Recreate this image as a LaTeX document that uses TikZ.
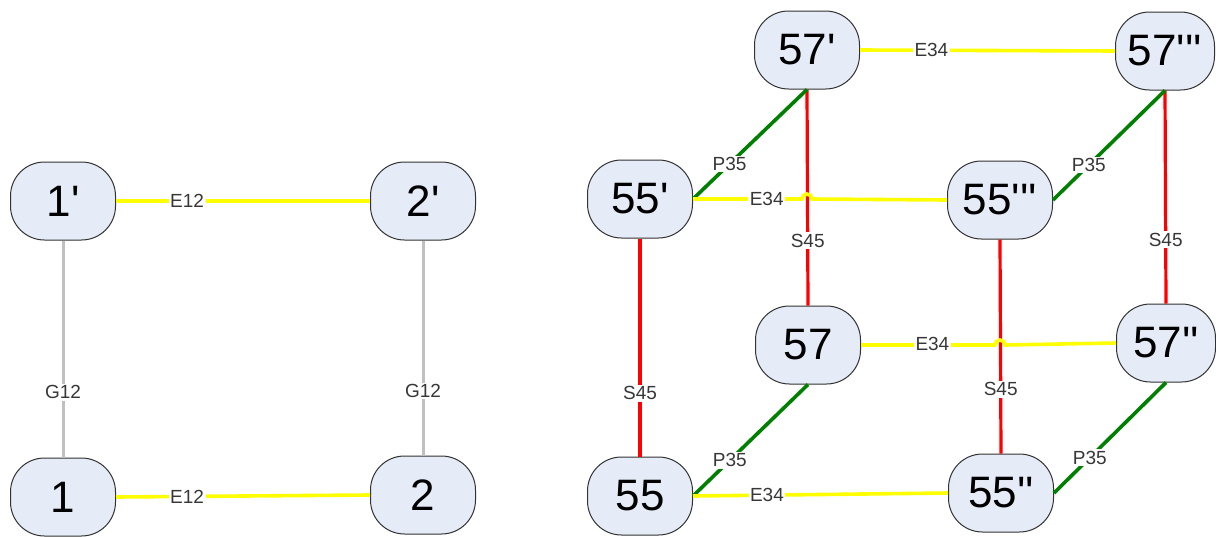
\documentclass[tikz,border=0pt]{standalone}
\usepackage{fontspec}
\newfontfamily\nodefont{Liberation Sans}
\usetikzlibrary{calc}
\definecolor{nodefill}{RGB}{230,236,247}
\definecolor{nodeline}{RGB}{50,50,50}
\definecolor{labtext}{RGB}{55,55,55}
\definecolor{eyellow}{RGB}{255,255,0}
\definecolor{sred}{RGB}{255,0,0}
\definecolor{pgreen}{RGB}{0,128,0}
\definecolor{ggray}{RGB}{192,192,192}
\begin{document}
\begin{tikzpicture}[x=1pt,y=1pt,
  state/.style={draw=nodeline,line width=1pt,fill=nodefill,rounded corners=34pt,
    minimum width=105pt,minimum height=78pt,inner sep=0pt,
    font=\nodefont\fontsize{44}{44}\selectfont},
  narrow/.style={minimum width=99pt},
  lab/.style={fill=white,inner sep=1.5pt,text=labtext,
    font=\nodefont\fontsize{19}{19}\selectfont},
  eline/.style={draw=eyellow,line width=3.6pt},
  sline/.style={draw=sred,line width=3.2pt},
  pline/.style={draw=pgreen,line width=3.6pt},
  gline/.style={draw=ggray,line width=3pt}]
\useasboundingbox[fill=white] (0,0) rectangle (1216,-536);

% left square
\node[state] (n1p) at (63,-201) {1'};
\node[state] (n2p) at (423,-201) {2'};
\node[state] (n1)  at (63,-497) {1};
\node[state] (n2)  at (423,-495) {2};

% right cube
\node[state] (n57p)   at (807,-50)  {57'};
\node[state,narrow] (n57ppp) at (1165,-51) {57'''};
\node[state] (n55p)   at (640,-199) {55'};
\node[state] (n55ppp) at (1000,-200) {55'''};
\node[state] (n57)    at (808,-345) {57};
\node[state,narrow] (n57pp)  at (1166,-343) {57''};
\node[state] (n55)    at (640,-496) {55};
\node[state] (n55pp)  at (1001,-493) {55''};

% left square edges
\draw[gline] (n1p.south) -- (n1.north);
\draw[gline] (n2p.south) -- (n2.north);
\draw[eline] (n1p.east) -- (n2p.west);
\draw[eline] (n1.east) -- (n2.west);
\path (n1p.south) -- (n1.north) node[lab,pos=0.7] {G12};
\path (n2p.south) -- (n2.north) node[lab,pos=0.7] {G12};
\path (n1p.east) -- (n2p.west) node[lab,pos=0.28] {E12};
\path (n1.east) -- (n2.west) node[lab,pos=0.28] {E12};

% cube: S45 edges
\draw[sline] (n57p.south) -- (n57.north);
\draw[sline] (n57ppp.south) -- (n57pp.north);
\draw[sline] (n55p.south) -- (n55.north);
\draw[sline] (n55ppp.south) -- (n55pp.north);

% cube: P35 edges
\draw[pline] (n57p.south) -- (n55p.east);
\draw[pline] (n57ppp.south) -- (n55ppp.east);
\draw[pline] (n57.south) -- (n55.east);
\draw[pline] (n57pp.south) -- (n55pp.east);

% cube: E34 edges, hopping over the S45 lines they cross
\draw[eline] (n57p.east) -- (n57ppp.west);
\draw[eline] (n55.east) -- (n55pp.west);
\draw[eline] (n55p.east) -- ($(n55p.east -| n57p.south)+(-5pt,0)$)
  arc[start angle=180,end angle=0,radius=5pt] -- (n55ppp.west);
\draw[eline] (n57.east) -- ($(n57.east -| n55ppp.south)+(-5pt,0)$)
  arc[start angle=180,end angle=0,radius=5pt] -- (n57pp.west);

% labels
\path (n57p.south) -- (n57.north) node[lab,pos=0.7] {S45};
\path (n57ppp.south) -- (n57pp.north) node[lab,pos=0.7] {S45};
\path (n55p.south) -- (n55.north) node[lab,pos=0.71] {S45};
\path (n55ppp.south) -- (n55pp.north) node[lab,pos=0.7] {S45};
\path (n57p.south) -- (n55p.east) node[lab,pos=0.68] {P35};
\path (n57ppp.south) -- (n55ppp.east) node[lab,pos=0.68] {P35};
\path (n57.south) -- (n55.east) node[lab,pos=0.68] {P35};
\path (n57pp.south) -- (n55pp.east) node[lab,pos=0.68] {P35};
\path (n57p.east) -- (n57ppp.west) node[lab,pos=0.28] {E34};
\path (n55p.east) -- (n55ppp.west) node[lab,pos=0.29] {E34};
\path (n57.east) -- (n57pp.west) node[lab,pos=0.28] {E34};
\path (n55.east) -- (n55pp.west) node[lab,pos=0.29] {E34};
\end{tikzpicture}
\end{document}
